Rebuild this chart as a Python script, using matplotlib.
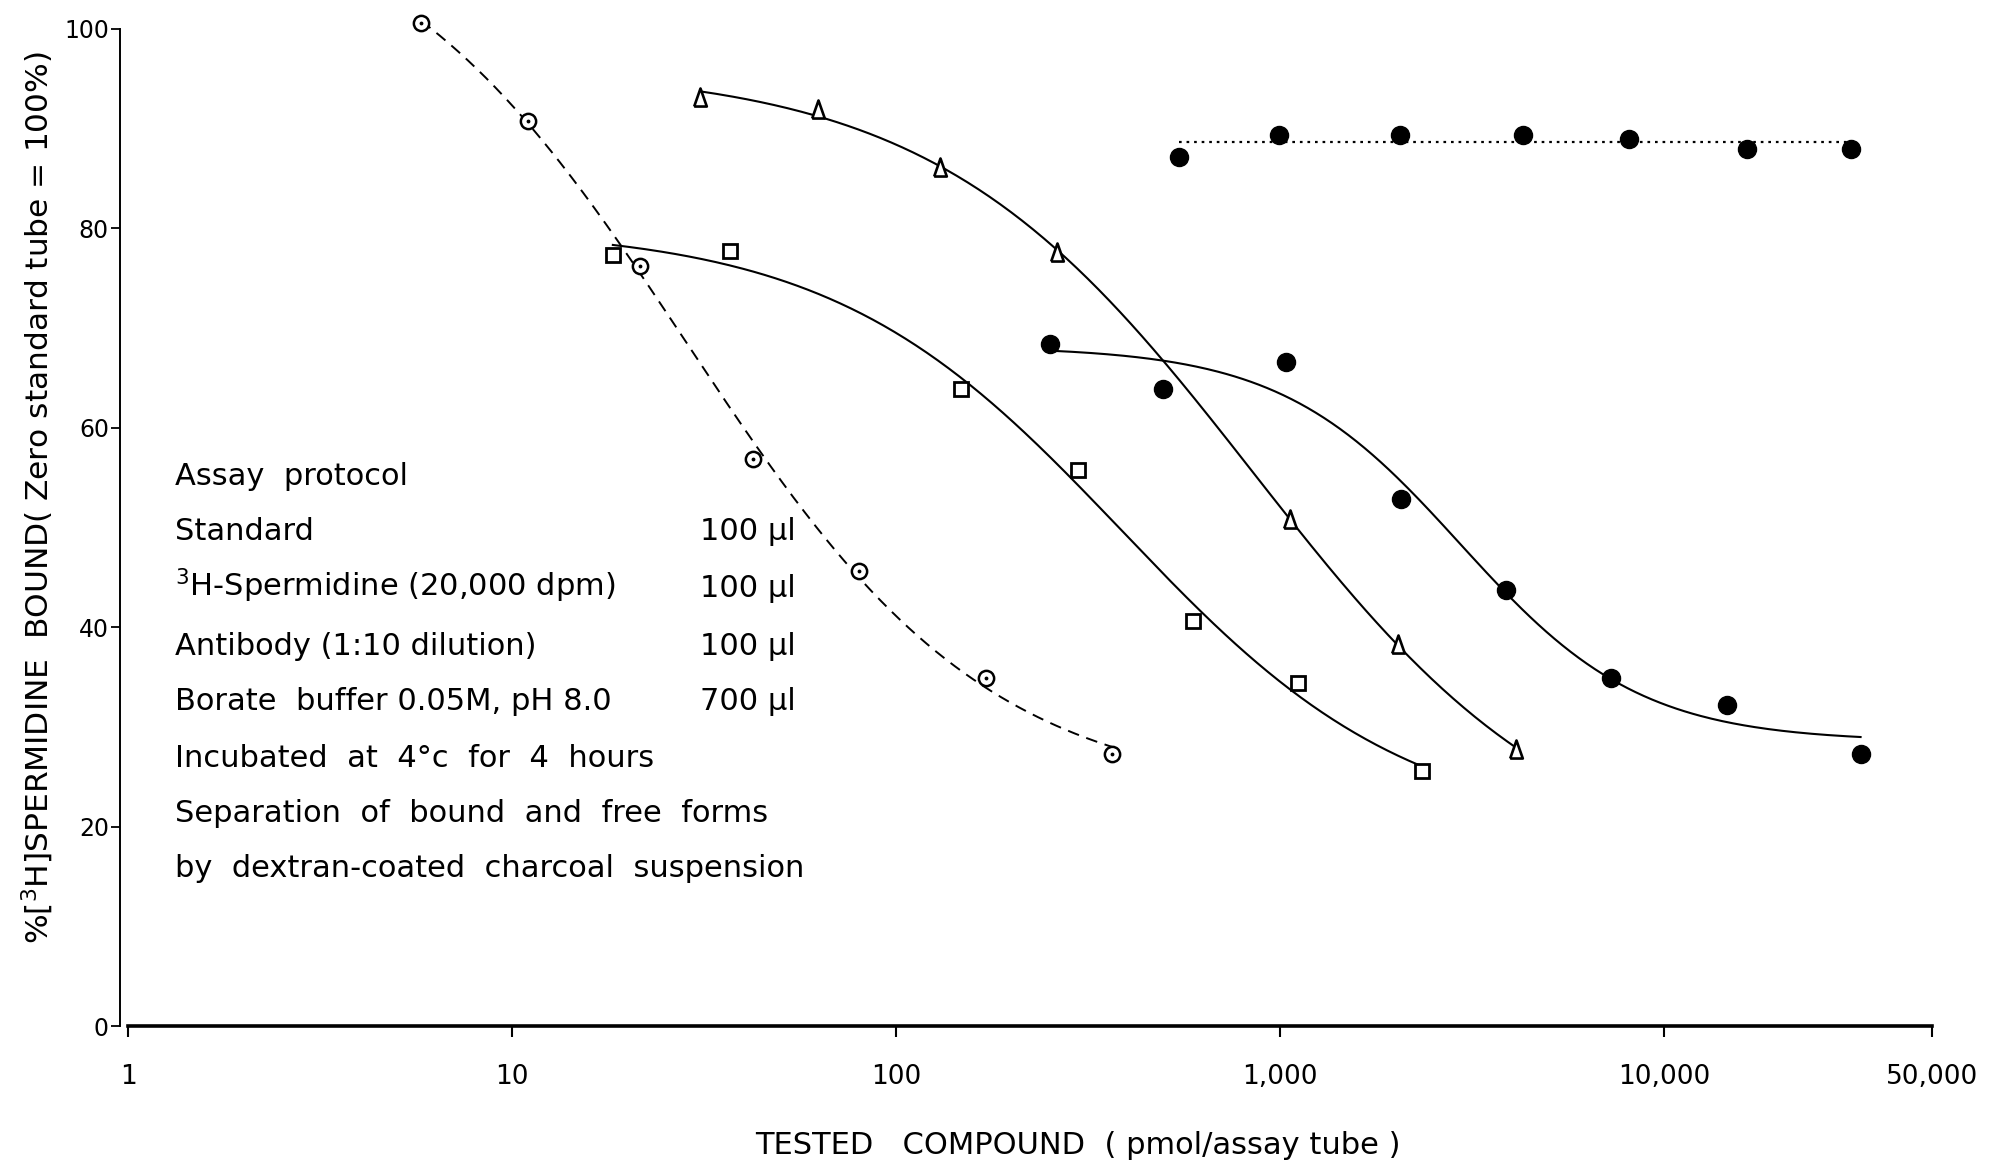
import numpy as np
import matplotlib
matplotlib.use("Agg")
import matplotlib.pyplot as plt
from matplotlib.ticker import NullLocator

# tested compound (pmol/assay tube) vs % [3H]spermidine bound
circle_x = [5.8, 11.0, 21.6, 42.3, 80.2, 172, 365]
circle_y = [100.6, 90.8, 76.2, 56.9, 45.6, 34.9, 27.3]

square_x = [18.3, 36.9, 148, 298, 595, 1117, 2348]
square_y = [77.3, 77.7, 63.9, 55.8, 40.6, 34.4, 25.6]

triangle_x = [30.9, 62.5, 130, 262, 1063, 2028, 4113]
triangle_y = [93.2, 92.0, 86.2, 77.6, 50.9, 38.3, 27.8]

dot_x = [252, 497, 1035, 2066, 3880, 7282, 14600, 32500]
dot_y = [68.4, 63.9, 66.6, 52.9, 43.7, 34.9, 32.2, 27.3]

flat_x = [546, 995, 2050, 4305, 8090, 16400, 30700]
flat_y = [87.2, 89.4, 89.4, 89.4, 89.0, 88.0, 88.0]

xticks = [1, 10, 100, 1000, 10000, 50000]
xtick_labels = ['1', '10', '100', '1,000', '10,000', '50,000']
yticks = [0, 20, 40, 60, 80, 100]

protocol_lines = [
    'Assay  protocol',
    'Standard',
    '$^{3}$H-Spermidine (20,000 dpm)',
    'Antibody (1:10 dilution)',
    'Borate  buffer 0.05M, pH 8.0',
    'Incubated  at  4°c  for  4  hours',
    'Separation  of  bound  and  free  forms',
    'by  dextran-coated  charcoal  suspension',
]
protocol_volumes = ['', '100 µl', '100 µl', '100 µl', '700 µl', '', '', '']


def logistic_curve(x, y, n=300):
    """Four-parameter logistic in log10(x), fitted by a grid over slope and
    midpoint with least squares for top and bottom."""
    lx = np.log10(x)
    y = np.asarray(y, dtype=float)
    best = None
    for b in np.linspace(0.4, 5.0, 93):
        for c in np.linspace(lx.min() - 0.5, lx.max() + 0.5, 241):
            s = 1.0 / (1.0 + 10 ** (b * (lx - c)))
            A = np.column_stack([s, 1 - s])
            coef = np.linalg.lstsq(A, y, rcond=None)[0]
            err = np.sum((A @ coef - y) ** 2)
            if best is None or err < best[0]:
                best = (err, b, c, coef)
    _, b, c, (top, bottom) = best
    grid = np.linspace(lx.min(), lx.max(), n)
    s = 1.0 / (1.0 + 10 ** (b * (grid - c)))
    return 10 ** grid, bottom + (top - bottom) * s


fig = plt.figure(figsize=(20.11, 11.71), dpi=100)
ax = fig.add_axes([0.0597, 0.1238, 0.905, 0.8685])

# fitted curves
cx, cy = logistic_curve(circle_x, circle_y)
ax.plot(cx, cy, color='black', lw=1.4, linestyle=(0, (6, 4)))
sx, sy = logistic_curve(square_x, square_y)
ax.plot(sx, sy, color='black', lw=1.5)
tx, ty = logistic_curve(triangle_x, triangle_y)
ax.plot(tx, ty, color='black', lw=1.5)
dx, dy = logistic_curve(dot_x, dot_y)
ax.plot(dx, dy, color='black', lw=1.5)
flat_level = np.mean(flat_y)
ax.plot([flat_x[0], flat_x[-1]], [flat_level, flat_level], color='black',
        lw=1.6, linestyle=(0, (1.2, 2.2)))

# markers
tall_triangle = [(-0.7, -1.0), (0.7, -1.0), (0.0, 1.0), (-0.7, -1.0)]
ax.plot(circle_x, circle_y, 'o', ms=11, mfc='white', mec='black', mew=1.8,
        clip_on=False)
ax.plot(circle_x, circle_y, '.', ms=3.5, color='black', clip_on=False)
ax.plot(square_x, square_y, 's', ms=10.5, mfc='white', mec='black', mew=2.0)
ax.plot(triangle_x, triangle_y, marker=tall_triangle, linestyle='none', ms=13,
        mfc='white', mec='black', mew=1.9)
ax.plot(dot_x, dot_y, 'o', ms=13, color='black')
ax.plot(flat_x, flat_y, 'o', ms=13, color='black')

# axes
ax.set_xscale('log')
ax.set_xlim(0.953, 52330)
ax.set_ylim(0, 102)
ax.spines['top'].set_visible(False)
ax.spines['right'].set_visible(False)
ax.spines['bottom'].set_bounds(1, 50000)
ax.spines['left'].set_bounds(0, 100)
ax.spines['bottom'].set_linewidth(2.6)
ax.spines['left'].set_linewidth(1.4)
ax.set_xticks(xticks)
ax.set_xticklabels(xtick_labels)
ax.xaxis.set_minor_locator(NullLocator())
ax.set_yticks(yticks)
ax.tick_params(axis='x', direction='out', length=8, width=1.5, pad=19,
               labelsize=19)
ax.tick_params(axis='y', direction='out', length=6.5, width=1.3, pad=1.5,
               labelsize=17)

# protocol text block
line_y = [0.532, 0.478, 0.422, 0.365, 0.311, 0.255, 0.201, 0.147]
for text, vol, yy in zip(protocol_lines, protocol_volumes, line_y):
    ax.text(0.030, yy, text, transform=ax.transAxes, fontsize=22,
            va='baseline', ha='left')
    if vol:
        ax.text(0.371, yy, vol, transform=ax.transAxes, fontsize=22,
                va='baseline', ha='right')

fig.text(0.536, 0.0222, 'TESTED   COMPOUND  ( pmol/assay tube )',
         fontsize=22, ha='center', va='center')
fig.text(0.019, 0.575, '%[$^{3}$H]SPERMIDINE  BOUND( Zero standard tube = 100%)',
         fontsize=22.5, rotation=90, ha='center', va='center')

fig.savefig('out.png', dpi=100)
